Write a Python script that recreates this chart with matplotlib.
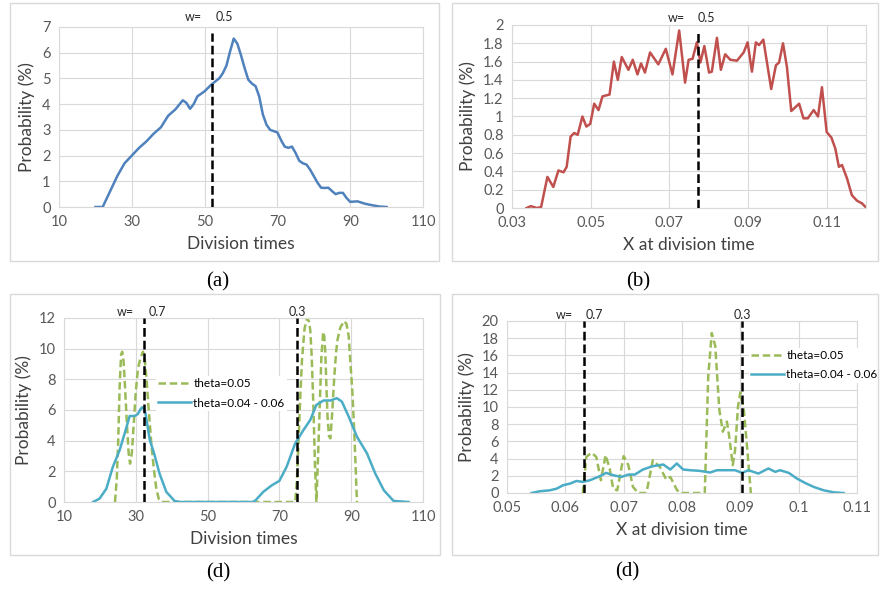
import matplotlib
matplotlib.use('Agg')
import matplotlib.pyplot as plt
from matplotlib.patches import Rectangle
from matplotlib.ticker import FuncFormatter, MultipleLocator

plt.rcParams['font.family'] = ['Lato', 'DejaVu Sans']

# (a) division times, w = 0.5
a_x = [20, 22, 24, 26, 28, 30, 32, 34, 36, 38, 40, 42, 44, 45, 46, 47, 48, 50, 52, 54,
       55, 56, 57, 58, 59, 60, 61, 62, 63, 64, 65, 66, 67, 68, 69, 70, 71, 72, 73, 74,
       75, 76, 77, 78, 79, 80, 81, 82, 83, 84, 85, 86, 87, 88, 89, 90, 92, 94, 96, 98, 100]
a_y = [0, 0, 0.6, 1.2, 1.7, 2.0, 2.3, 2.55, 2.85, 3.1, 3.55, 3.8, 4.15, 4.05, 3.82, 4.0,
       4.3, 4.5, 4.78, 5.0, 5.2, 5.5, 6.05, 6.55, 6.35, 5.9, 5.4, 4.95, 4.8, 4.7, 4.3, 3.6,
       3.2, 3.0, 2.95, 2.9, 2.6, 2.35, 2.3, 2.35, 2.1, 1.8, 1.7, 1.65, 1.45, 1.2, 0.95, 0.75,
       0.74, 0.75, 0.62, 0.5, 0.55, 0.55, 0.35, 0.2, 0.22, 0.13, 0.07, 0.02, 0]
a_w = [52]
a_wtop = [6.75]

# (b) X at division time, w = 0.5
b_x = [0.0337, 0.0348, 0.0363, 0.0374, 0.0390, 0.0405, 0.0418, 0.0431, 0.0439, 0.0449,
       0.0458, 0.0467, 0.0479, 0.0489, 0.0499, 0.0509, 0.0520, 0.0530, 0.0548, 0.0559,
       0.0569, 0.0579, 0.0596, 0.0607, 0.0619, 0.0628, 0.0638, 0.0651, 0.0672, 0.0691,
       0.0708, 0.0725, 0.0740, 0.0749, 0.0759, 0.0770, 0.0779, 0.0789, 0.0801, 0.0808,
       0.0821, 0.0831, 0.0842, 0.0855, 0.0872, 0.0889, 0.0899, 0.0910, 0.0920, 0.0928,
       0.0939, 0.0959, 0.0971, 0.0979, 0.0989, 0.0999, 0.1010, 0.1020, 0.1030, 0.1041,
       0.1052, 0.1067, 0.1078, 0.1088, 0.1100, 0.1112, 0.1122, 0.1131, 0.1139, 0.1152,
       0.1164, 0.1177, 0.1190, 0.1199]
b_y = [0, 0.02, 0, 0.01, 0.34, 0.23, 0.41, 0.39, 0.45, 0.78, 0.82, 0.80, 1.0, 0.89, 0.92,
       1.14, 1.07, 1.22, 1.24, 1.60, 1.40, 1.65, 1.51, 1.62, 1.46, 1.58, 1.48, 1.70, 1.57,
       1.74, 1.46, 1.94, 1.37, 1.62, 1.63, 1.81, 1.59, 1.77, 1.48, 1.49, 1.86, 1.51, 1.68,
       1.62, 1.61, 1.70, 1.81, 1.49, 1.81, 1.78, 1.84, 1.30, 1.56, 1.59, 1.80, 1.54, 1.06,
       1.10, 1.14, 0.98, 0.98, 1.07, 1.00, 1.32, 0.83, 0.77, 0.65, 0.45, 0.47, 0.32, 0.14,
       0.08, 0.05, 0.01]
b_w = [0.0772]
b_wtop = [1.93]

# (c) division times, w = 0.7 / 0.3
c_green_x = [24.2, 24.7, 25.1, 25.5, 25.9, 26.2, 26.6, 27.0, 27.5, 28.0, 28.4, 28.9, 29.4,
             30.0, 30.6, 31.3, 32.0, 32.5, 33.0, 33.6, 34.3, 35.0, 35.7, 36.4, 37.2, 74.4,
             74.9, 75.3, 75.8, 76.3, 77.0, 77.7, 78.2, 78.6, 79.0, 79.5, 79.9, 80.3, 80.7,
             81.2, 81.7, 82.2, 82.5, 82.8, 83.1, 83.4, 83.8, 84.2, 84.7, 85.3, 85.8, 86.2,
             87.0, 88.1, 88.7, 89.3, 89.8, 90.3, 90.7, 91.2, 91.6]
c_green_y = [0, 1.5, 4.0, 7.5, 9.6, 9.8, 9.2, 7.5, 5.2, 3.2, 2.5, 3.2, 5.0, 7.2, 8.7, 9.4,
             9.8, 9.3, 8.0, 6.0, 3.9, 2.2, 0.9, 0.2, 0, 0, 1.5, 3.8, 6.8, 9.3, 11.3, 12.0,
             11.8, 11.2, 9.5, 6.0, 2.5, 0, 2.5, 6.0, 9.5, 11.1, 10.8, 9.7, 7.5, 5.6, 4.3,
             4.15, 5.8, 8.2, 9.8, 10.6, 11.4, 11.8, 11.6, 10.8, 9.0, 7.3, 5.35, 2.5, 0]
c_blue_x = [18.1, 19.9, 21.8, 23.6, 25.5, 26.9, 28.3, 29.7, 30.6, 31.3, 31.8, 32.3, 32.7,
            33.3, 33.9, 35.1, 36.6, 38.5, 40.8, 42.2, 62.5, 63.2, 65.5, 67.9, 70.0, 72.0,
            74.4, 76.7, 78.6, 80.3, 82.3, 84.2, 86.0, 87.4, 89.3, 91.6, 94.4, 96.7, 99.1,
            101.8, 106.0]
c_blue_y = [0, 0.22, 0.87, 2.29, 3.38, 4.48, 5.61, 5.61, 5.74, 6.05, 6.18, 6.05, 5.79, 4.9,
            4.04, 3.17, 1.86, 0.66, 0.07, 0, 0, 0.07, 0.66, 1.09, 1.38, 2.29, 3.82, 4.69,
            5.35, 6.33, 6.62, 6.62, 6.77, 6.55, 5.57, 4.26, 3.17, 1.86, 0.76, 0.07, 0]
c_w = [32.2, 74.8]
c_wtop = [12, 12]

# (d) X at division time, w = 0.7 / 0.3
d_green_x = [0.0630, 0.0636, 0.0645, 0.0653, 0.0661, 0.0669, 0.0676, 0.0682, 0.0689,
             0.0700, 0.0708, 0.0716, 0.0725, 0.0739, 0.0750, 0.0762, 0.0773, 0.0780,
             0.0791, 0.0796, 0.0839, 0.0845, 0.0851, 0.0857, 0.0864, 0.0870, 0.0877,
             0.0881, 0.0887, 0.0891, 0.0896, 0.0900, 0.0906, 0.0913, 0.0918]
d_green_y = [0, 4.2, 4.68, 4.2, 1.48, 4.4, 2.85, 0.5, 0.31, 4.29, 3.24, 0.7, 0, 0, 3.82,
             3.04, 1.56, 1.87, 0.39, 0, 0, 13.6, 18.6, 17.1, 9.67, 7.13, 8.3, 6.55, 3.24,
             4.99, 10.06, 11.7, 9.67, 4.2, 0]
d_blue_x = [0.0542, 0.0556, 0.0573, 0.0585, 0.0596, 0.0608, 0.0619, 0.0630, 0.0642,
            0.0659, 0.0670, 0.0682, 0.0696, 0.0708, 0.0719, 0.0733, 0.0750, 0.0768,
            0.0780, 0.0791, 0.0802, 0.0814, 0.0831, 0.0848, 0.0860, 0.0877, 0.0891,
            0.0903, 0.0914, 0.0931, 0.0948, 0.0960, 0.0968, 0.0983, 0.0997, 0.1011,
            0.1026, 0.1043, 0.1060, 0.1077]
d_blue_y = [0, 0.2, 0.31, 0.5, 0.9, 1.09, 1.4, 1.29, 1.48, 1.95, 2.34, 2.07, 1.87, 2.14,
            2.14, 2.73, 3.12, 3.31, 2.73, 3.43, 2.73, 2.65, 2.57, 2.38, 2.65, 2.65, 2.65,
            2.34, 2.65, 2.26, 2.85, 2.46, 2.65, 2.34, 1.68, 1.17, 0.70, 0.31, 0.08, 0]
d_w = [0.0632, 0.0902]
d_wtop = [20, 20]

W, H = 880, 591
fig = plt.figure(figsize=(W / 100, H / 100), dpi=100)

GRID = '#D9D9D9'
TICK = '#595959'


def frame(x0, y0, x1, y1):
    fig.patches.append(Rectangle((x0 / W, 1 - y1 / H), (x1 - x0) / W, (y1 - y0) / H,
                                 transform=fig.transFigure, fill=False,
                                 edgecolor=GRID, lw=1.0))


def panel(l, t, r, b, xlim, xstep, ylim, ystep, xlabel):
    ax = fig.add_axes([l / W, 1 - b / H, (r - l) / W, (b - t) / H])
    ax.set_xlim(*xlim)
    ax.set_ylim(*ylim)
    ax.xaxis.set_major_locator(MultipleLocator(xstep))
    ax.yaxis.set_major_locator(MultipleLocator(ystep))
    fmt = FuncFormatter(lambda v, p: '%g' % round(v, 6))
    ax.xaxis.set_major_formatter(fmt)
    ax.yaxis.set_major_formatter(fmt)
    ax.grid(True, color=GRID, lw=0.8)
    ax.set_axisbelow(True)
    for s in ax.spines.values():
        s.set_color(GRID)
        s.set_linewidth(0.8)
    ax.tick_params(length=0, labelsize=10.5, colors=TICK, pad=6)
    ax.set_xlabel(xlabel, fontsize=12.5, color='#404040', labelpad=5)
    ax.set_ylabel('Probability (%)', fontsize=12.5, color='#404040', labelpad=5)
    return ax


def wlines(ax, xs, tops):
    ax.vlines(xs, 0, tops, colors='black', linestyles=(0, (3.5, 1.6)), lw=1.8, zorder=4)


def wtext(ax, pos, labels, y):
    for x, s in zip(pos, labels):
        ax.text(x, y, s, ha='center', va='center', fontsize=9, color='#262626',
                clip_on=False)


def legend(ax, anchor):
    ax.legend(loc='upper left', bbox_to_anchor=anchor, fontsize=8.5,
              handlelength=2.8, frameon=True, facecolor='white', edgecolor='none',
              framealpha=1, borderpad=0.2, borderaxespad=0, labelspacing=0.7,
              handletextpad=0.2, fancybox=False)


# (a)
frame(10, 3, 439, 261)
ax = panel(59, 27, 423, 207, (10, 110), 20, (0, 7), 1, 'Division times')
ax.set_xticks([10, 30, 50, 70, 90, 110])
ax.plot(a_x, a_y, color='#4F81BD', lw=1.8, solid_joinstyle='round')
wlines(ax, a_w, a_wtop)
wtext(ax, [46.8, 55.3], ['w=', '0.5'], 7.38)

# (b)
frame(452, 3, 878, 261)
ax = panel(512, 25, 866, 208, (0.03, 0.12), 0.02, (0, 2), 0.2, 'X at division time')
ax.set_xticks([0.03, 0.05, 0.07, 0.09, 0.11])
ax.plot(b_x, b_y, color='#C0504D', lw=1.8, solid_joinstyle='round')
wlines(ax, b_w, b_wtop)
wtext(ax, [0.0717, 0.0794], ['w=', '0.5'], 2.08)

# (c)
frame(10, 294, 440, 555)
ax = panel(64, 318, 423, 502, (10, 110), 20, (0, 12), 2, 'Division times')
ax.set_xticks([10, 30, 50, 70, 90, 110])
ax.plot(c_green_x, c_green_y, color='#9BBB59', lw=1.8, ls=(0, (3, 1.5)),
        label='theta=0.05')
ax.plot(c_blue_x, c_blue_y, color='#4BACC6', lw=1.8, solid_joinstyle='round',
        label='theta=0.04 - 0.06')
wlines(ax, c_w, c_wtop)
wtext(ax, [27, 35.9, 74.9], ['w=', '0.7', '0.3'], 12.42)
legend(ax, (0.255, 0.685))

# (d)
frame(452, 294, 878, 555)
ax = panel(507, 321, 857, 493, (0.05, 0.11), 0.01, (0, 20), 2, 'X at division time')
ax.plot(d_green_x, d_green_y, color='#9BBB59', lw=1.8, ls=(0, (3, 1.5)),
        label='theta=0.05')
ax.plot(d_blue_x, d_blue_y, color='#4BACC6', lw=1.8, solid_joinstyle='round',
        label='theta=0.04 - 0.06')
wlines(ax, d_w, d_wtop)
wtext(ax, [0.0599, 0.0650, 0.0904], ['w=', '0.7', '0.3'], 20.7)
legend(ax, (0.69, 0.845))

# sub-figure captions
for x, y, s in [(218, 282, '(a)'), (638, 282, '(b)'), (218, 573, '(d)'), (627, 572, '(d)')]:
    fig.text(x / W, 1 - y / H, s, ha='center', va='center', fontsize=15,
             family='Liberation Serif')

fig.savefig('out.png', dpi=100)
